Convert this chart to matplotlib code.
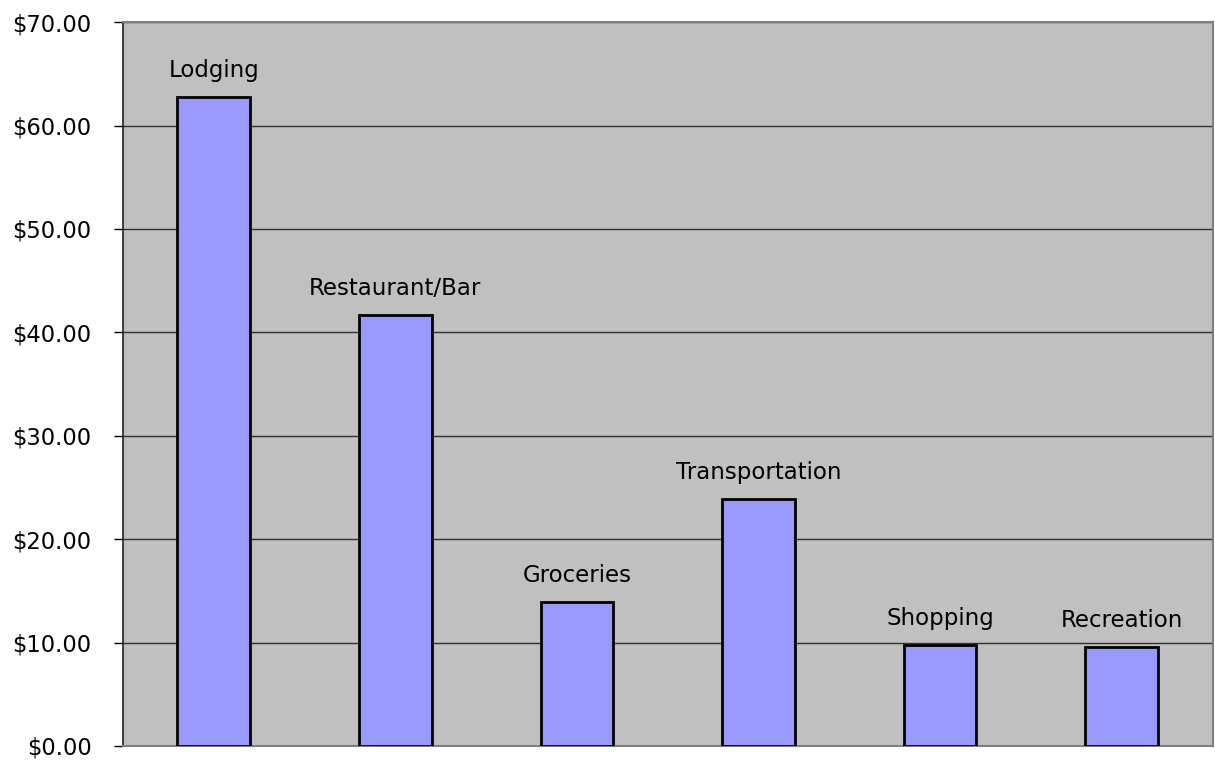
import matplotlib
matplotlib.use("Agg")
import matplotlib.pyplot as plt
from matplotlib.ticker import FuncFormatter, MultipleLocator

categories = ["Lodging", "Restaurant/Bar", "Groceries", "Transportation", "Shopping", "Recreation"]
spending = [62.78, 41.65, 13.95, 23.90, 9.77, 9.60]

plt.rcParams["font.family"] = ["Verdana", "DejaVu Sans"]

fig = plt.figure(figsize=(12.15, 7.62), dpi=100)
ax = fig.add_axes([0.1012, 0.021, 0.8968, 0.950])
ax.set_facecolor("#C0C0C0")

x = list(range(len(categories)))
bars = ax.bar(x, spending, width=0.40, color="#9999FF", edgecolor="black",
              linewidth=2, zorder=3)

for xi, val, name in zip(x, spending, categories):
    ax.annotate(name, (xi, val), xytext=(0, 15), textcoords="offset pixels",
                ha="center", va="bottom", fontsize=16.5, color="black", zorder=4)

ax.set_xlim(-0.5, len(categories) - 0.5)
ax.set_ylim(0, 70)
ax.yaxis.set_major_locator(MultipleLocator(10))
ax.yaxis.set_major_formatter(FuncFormatter(lambda v, _: f"${v:.2f}"))
ax.set_xticks([])
ax.grid(axis="y", color="#303030", linewidth=1, zorder=1)

ax.tick_params(axis="y", length=6.5, width=1, color="black", labelsize=16.3, pad=16)
for side in ["top", "right", "bottom"]:
    ax.spines[side].set_color("#808080")
    ax.spines[side].set_linewidth(1.5)
ax.spines["left"].set_color("#202020")
ax.spines["left"].set_linewidth(1.2)

fig.savefig("out.png", dpi=100, facecolor="white")
